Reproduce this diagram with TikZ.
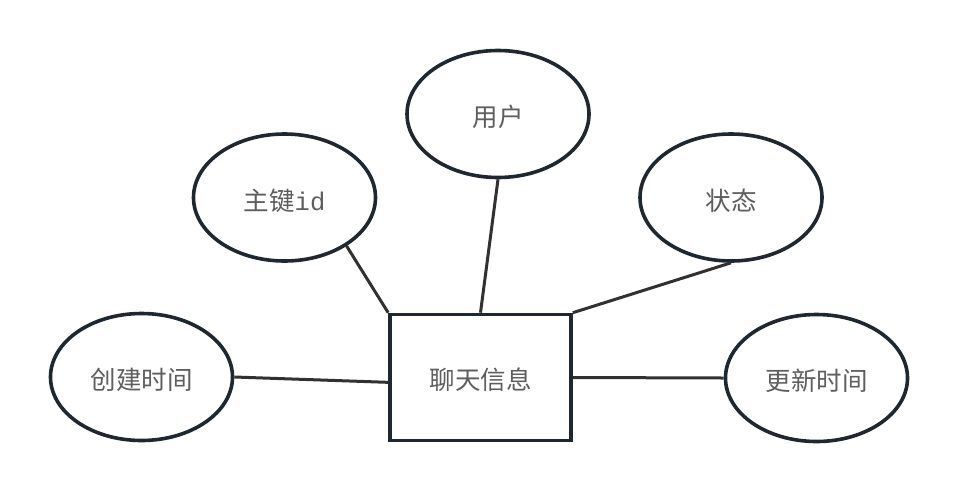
\documentclass[tikz,border=0pt]{standalone}
\usepackage{fontspec}
\newfontfamily\cjk{Noto Sans CJK SC}
\newfontfamily\latinmono{Liberation Mono}
\usetikzlibrary{shapes.geometric}
\definecolor{shapeline}{HTML}{1F2830}
\definecolor{connline}{HTML}{333030}
\definecolor{txt}{HTML}{5E5E5E}
\tikzset{
  attr/.style={ellipse, draw=shapeline, line width=3.6pt, minimum width=182pt, minimum height=127pt, inner sep=0pt, text=txt, font=\cjk\fontsize{25.5}{28}\selectfont, text height=28pt, text depth=3pt},
  entity/.style={rectangle, draw=shapeline, line width=3.6pt, minimum width=181pt, minimum height=126pt, inner sep=0pt, text=txt, font=\cjk\fontsize{25.5}{28}\selectfont, text height=26pt, text depth=3pt},
  conn/.style={draw=connline, line width=3pt}
}
\begin{document}
\begin{tikzpicture}[x=1pt, y=-1pt]
\useasboundingbox[fill=white] (0,0) rectangle (960,493);
\node[entity] (m) at (480.5,377.5) {聊天信息};
\node[attr] (u) at (498,114) {用户};
\node[attr] (k) at (284.5,197.5) {主键{\latinmono id}};
\node[attr] (s) at (731,197.5) {状态};
\node[attr] (c) at (141.5,377) {创建时间};
\node[attr] (r) at (816.5,378) {更新时间};
\draw[conn] (k.-38) -- (m.north west);
\draw[conn] (u.south) -- (m.north);
\draw[conn] (s.south) -- (m.north east);
\draw[conn] (c.east) -- (m.183);
\draw[conn] (m.east) -- (r.west);
\end{tikzpicture}
\end{document}
